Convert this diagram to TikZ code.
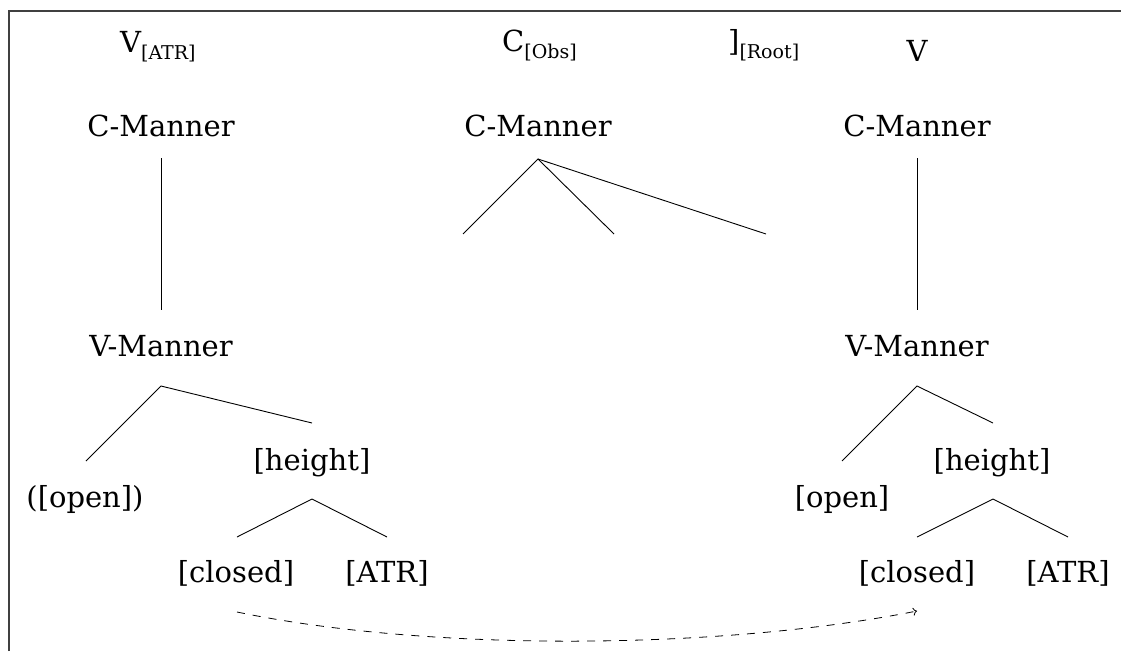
\documentclass[tikz,border=0pt]{standalone}
\usepackage{fontspec}
\setmainfont{DejaVu Serif}
\usetikzlibrary{arrows.meta}
\newcommand{\subtxt}[1]{\raisebox{-7pt}{\fontsize{19}{22}\selectfont #1}}
\begin{document}
\begin{tikzpicture}[x=1pt,y=-1pt,
  lbl/.style={inner sep=0pt,anchor=base,font=\fontsize{29}{34}\selectfont},
  br/.style={line width=0.9pt},
  frame/.style={line width=1.2pt,draw=black!75}]
\useasboundingbox (0,0) rectangle (1121,651);
\draw[frame] (9,651) -- (9,11) -- (1121,11);
% top row
\node[lbl,anchor=base west] (va) at (120,52) {V\subtxt{[ATR]}};
\node[lbl,anchor=base west] (cobs) at (502,51) {C\subtxt{[Obs]}};
\node[lbl,anchor=base west] (root) at (728,51) {]\subtxt{[Root]}};
\node[lbl] (vr) at (917,61) {V};
% C-Manner
\node[lbl] (cml) at (161,136) {C-Manner};
\node[lbl] (cmm) at (538,136) {C-Manner};
\node[lbl] (cmr) at (917,136) {C-Manner};
% V-Manner
\node[lbl] (vml) at (161,356) {V-Manner};
\node[lbl] (vmr) at (917,356) {V-Manner};
% left tree
\node[lbl] (openl) at (85,507) {([open])};
\node[lbl] (heightl) at (312,470) {[height]};
\node[lbl] (closedl) at (236,582) {[closed]};
\node[lbl] (atrl) at (387,582) {[ATR]};
% right tree
\node[lbl] (openr) at (842,507) {[open]};
\node[lbl] (heightr) at (992,470) {[height]};
\node[lbl] (closedr) at (917,582) {[closed]};
\node[lbl] (atrr) at (1068,582) {[ATR]};
% coordinates
\coordinate (cmlb) at (161,158);
\coordinate (vmlt) at (161,310);
\coordinate (cmrb) at (917,158);
\coordinate (vmrt) at (917,310);
\coordinate (cmmb) at (538,159);
\coordinate (m1) at (463,234);
\coordinate (m2) at (614,234);
\coordinate (m3) at (766,234);
\coordinate (vmlb) at (161,386);
\coordinate (openlt) at (86,461);
\coordinate (heightlt) at (312,423);
\coordinate (heightlb) at (312,499);
\coordinate (closedlt) at (237,537);
\coordinate (atrlt) at (387,537);
\coordinate (vmrb) at (917,386);
\coordinate (openrt) at (842,461);
\coordinate (heightrt) at (993,423);
\coordinate (heightrb) at (993,499);
\coordinate (closedrt) at (917,537);
\coordinate (atrrt) at (1068,537);
\coordinate (ds) at (237,612);
\coordinate (de) at (917,611);
% branches
\draw[br] (cmlb) -- (vmlt);
\draw[br] (cmrb) -- (vmrt);
\draw[br] (m1) -- (cmmb) -- (m2);
\draw[br] (cmmb) -- (m3);
\draw[br] (openlt) -- (vmlb) -- (heightlt);
\draw[br] (closedlt) -- (heightlb) -- (atrlt);
\draw[br] (openrt) -- (vmrb) -- (heightrt);
\draw[br] (closedrt) -- (heightrb) -- (atrrt);
% dashed arrow
\draw[line width=0.8pt,dash pattern=on 8pt off 8pt,-{To[length=4pt,width=8pt]}]
  (ds) .. controls (430,652) and (720,650) .. (de);
\end{tikzpicture}
\end{document}
